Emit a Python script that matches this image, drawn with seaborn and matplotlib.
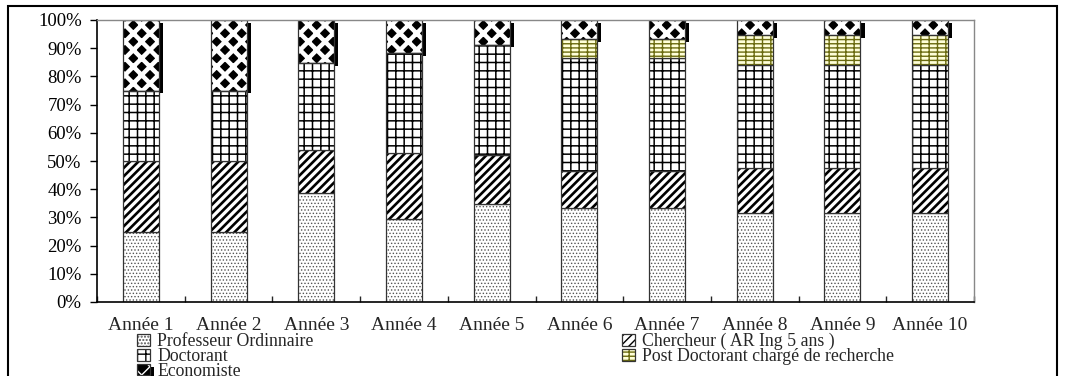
import numpy as np
import pandas as pd
import matplotlib
matplotlib.use("Agg")
import matplotlib.pyplot as plt
import matplotlib.patheffects as pe
from matplotlib.patches import Rectangle
from matplotlib.ticker import FixedLocator, FuncFormatter
import seaborn as sns

# Staff composition per year (% of total headcount)
annees = ["Année 1", "Année 2", "Année 3", "Année 4", "Année 5",
          "Année 6", "Année 7", "Année 8", "Année 9", "Année 10"]
professeur = [25.0, 25.0, 38.5, 29.4, 34.8, 33.3, 33.3, 31.6, 31.6, 31.6]
chercheur = [25.0, 25.0, 15.4, 23.5, 17.4, 13.3, 13.3, 15.8, 15.8, 15.8]
doctorant = [25.0, 25.0, 30.8, 35.3, 39.1, 40.0, 40.0, 36.8, 36.8, 36.8]
post_doc = [0.0, 0.0, 0.0, 0.0, 0.0, 6.7, 6.7, 10.5, 10.5, 10.5]
economiste = [25.0, 25.0, 15.3, 11.8, 8.7, 6.7, 6.7, 5.3, 5.3, 5.3]

labels = ["Professeur Ordinnaire", "Chercheur ( AR Ing 5 ans )", "Doctorant",
          "Post Doctorant chargé de recherche", "Economiste"]

sns.set_style("white")
plt.rcParams["font.family"] = ["Liberation Serif", "DejaVu Serif"]
plt.rcParams["hatch.linewidth"] = 1.0

fig = plt.figure(figsize=(10.67, 3.76), dpi=100)
ax = fig.add_axes([97 / 1067, 1 - 302 / 376, (974 - 97) / 1067, (302 - 20) / 376])

series = [professeur, chercheur, doctorant, post_doc, economiste]
styles = [
    dict(color="white", hatch=".....", hatch_color="#555555", hatch_lw=0.6, z=2),
    dict(color="white", hatch="////", hatch_color="black", hatch_lw=1.9, z=2),
    dict(color="white", hatch="++", hatch_color="black", hatch_lw=1.1, z=2),
    dict(color="#FFFFD8", hatch="----||", hatch_color="#6B6B10", hatch_lw=1.0, z=2),
    dict(color="black", hatch="xx", hatch_color="white", hatch_lw=3.2, z=1.5),
]

bottom = np.zeros(len(annees))
containers = []
for vals, st in zip(series, styles):
    df = pd.DataFrame({"annee": annees, "pct": vals})
    n_before = len(ax.containers)
    sns.barplot(data=df, x="annee", y="pct", order=annees, width=0.41,
                bottom=bottom.copy(), color=st["color"], saturation=1,
                edgecolor="#333333", linewidth=0.9, errorbar=None, ax=ax,
                zorder=st["z"])
    cont = ax.containers[n_before]
    for p in cont.patches:
        p.set_hatch(st["hatch"])
        p.set_facecolor(st["color"])
        p.set_zorder(st["z"])
        if hasattr(p, "set_hatchcolor"):
            p.set_hatchcolor(st["hatch_color"])
        else:
            p._hatch_color = matplotlib.colors.to_rgba(st["hatch_color"])
        if hasattr(p, "set_hatch_linewidth"):
            p.set_hatch_linewidth(st["hatch_lw"])
    containers.append(cont)
    bottom += np.asarray(vals)

# Solid drop shadow on the top segment
for p in containers[4].patches:
    p.set_path_effects([pe.PathPatchEffect(offset=(3, -2), facecolor="black",
                                           edgecolor="black", linewidth=0),
                        pe.Normal()])

ax.set_ylim(0, 100)
ax.set_xlim(-0.5, len(annees) - 0.5)
ax.set_xlabel("")
ax.set_ylabel("")
ax.yaxis.set_major_locator(FixedLocator(np.arange(0, 101, 10)))
ax.yaxis.set_major_formatter(FuncFormatter(lambda v, _: f"{int(v)}%"))
ax.tick_params(axis="y", which="major", left=True, length=5, width=1, direction="out",
               labelsize=13.5, pad=6, colors="black")
ax.tick_params(axis="x", which="major", bottom=False, labelsize=14, pad=7)
ax.xaxis.set_minor_locator(FixedLocator(np.arange(-0.5, len(annees), 1.0)))
ax.tick_params(axis="x", which="minor", bottom=True, length=4, width=1, direction="in")

for side in ["left", "bottom"]:
    ax.spines[side].set_color("black")
    ax.spines[side].set_linewidth(1.2)
for side in ["top", "right"]:
    ax.spines[side].set_color("#888888")
    ax.spines[side].set_linewidth(1.0)

order = [0, 2, 4, 1, 3]
leg = ax.legend([containers[i] for i in order], [labels[i] for i in order],
                ncol=2, frameon=False, fontsize=12.75, loc="upper left",
                bbox_to_anchor=(137 / 1067, 1 - 333 / 376), bbox_transform=fig.transFigure,
                handlelength=0.75, handleheight=0.6, handletextpad=0.4,
                labelspacing=-0.12, columnspacing=17.4, borderpad=0, borderaxespad=0)

# Outer frame around the chart area
fig.patches.append(Rectangle((8 / 1067, -0.1), (1057 - 8) / 1067, 1 - 6 / 376 + 0.1,
                             transform=fig.transFigure, fill=False, edgecolor="black",
                             linewidth=1.5, clip_on=False))

fig.savefig("out.png", dpi=100)
